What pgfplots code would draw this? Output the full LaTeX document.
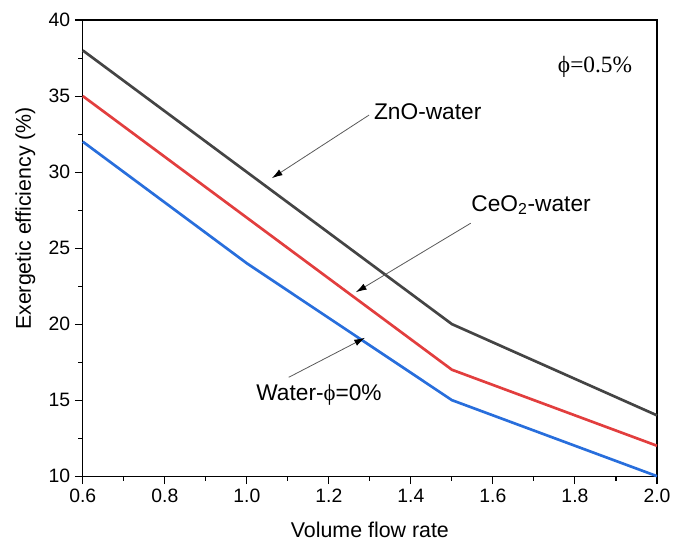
\documentclass[border=0pt]{standalone}
\usepackage{pgfplots}
\pgfplotsset{compat=1.18}
\usepackage{fontspec}
\setmainfont{Liberation Sans}
\newfontfamily\serifphi{Liberation Serif}
\usetikzlibrary{arrows.meta}
\definecolor{zno}{RGB}{68,68,68}
\definecolor{ceo}{RGB}{226,62,62}
\definecolor{wat}{RGB}{40,110,220}
\begin{document}
\begin{tikzpicture}
\begin{axis}[
  name=ax,
  scale only axis,
  width=430pt, height=341.6pt,
  xmin=0.6, xmax=2.0, ymin=10, ymax=40,
  xtick={0.6,0.8,...,2.0},
  ytick={10,15,...,40},
  minor x tick num=1, minor y tick num=1,
  xticklabel style={/pgf/number format/.cd,fixed,fixed zerofill,precision=1},
  /pgf/number format/assume math mode=true,
  tick align=outside,
  axis x line*=bottom, axis y line*=left,
  major tick length=6pt, minor tick length=3.5pt,
  tick style={black, line width=0.8pt},
  axis line style={line width=0.9pt},
  ticklabel style={font=\fontsize{14.5}{16}\selectfont},
  label style={font=\fontsize{16}{19}\selectfont},
  xlabel={Volume flow rate},
  ylabel={Exergetic efficiency (\%)},
  xlabel style={yshift=-8pt},
  ylabel style={at={(ticklabel cs:0.565)}, yshift=3pt},
  clip=false,
]
\draw[line width=0.9pt] (rel axis cs:0,1) -- (rel axis cs:1,1) -- (rel axis cs:1,0);
\addplot[zno, line width=2pt] coordinates {(0.6,38) (1.0,30) (1.5,20) (2.0,14)};
\addplot[ceo, line width=2pt] coordinates {(0.6,35) (1.0,27) (1.5,17) (2.0,12)};
\addplot[wat, line width=2pt] coordinates {(0.6,32) (1.0,24) (1.5,15) (2.0,10)};
\draw[gray!70!black, line width=0.6pt, -{Latex[length=8pt,width=5pt,black]}] (axis cs:1.298,33.75) -- (axis cs:1.061,29.6);
\draw[gray!70!black, line width=0.6pt, -{Latex[length=8pt,width=5pt,black]}] (axis cs:1.546,26.64) -- (axis cs:1.266,22.1);
\draw[gray!70!black, line width=0.6pt, -{Latex[length=8pt,width=5pt,black]}] (axis cs:1.102,16.5) -- (axis cs:1.288,19.1);
\node[font=\fontsize{17}{20}\selectfont] at (axis cs:1.441,33.95) {ZnO-water};
\node[font=\fontsize{17}{20}\selectfont] at (axis cs:1.693,27.83) {CeO\textsubscript{2}-water};
\node[font=\fontsize{17}{20}\selectfont] at (axis cs:1.176,15.33) {Water-{\serifphi ϕ}=0\%};
\node[font=\serifphi\fontsize{17.5}{20}\selectfont] at (axis cs:1.849,36.9) {ϕ=0.5\%};
\end{axis}
\pgfresetboundingbox
\path[use as bounding box] ([xshift=-62pt,yshift=-52.4pt]ax.south west) rectangle ([xshift=13.5pt,yshift=15pt]ax.north east);
\end{tikzpicture}
\end{document}
